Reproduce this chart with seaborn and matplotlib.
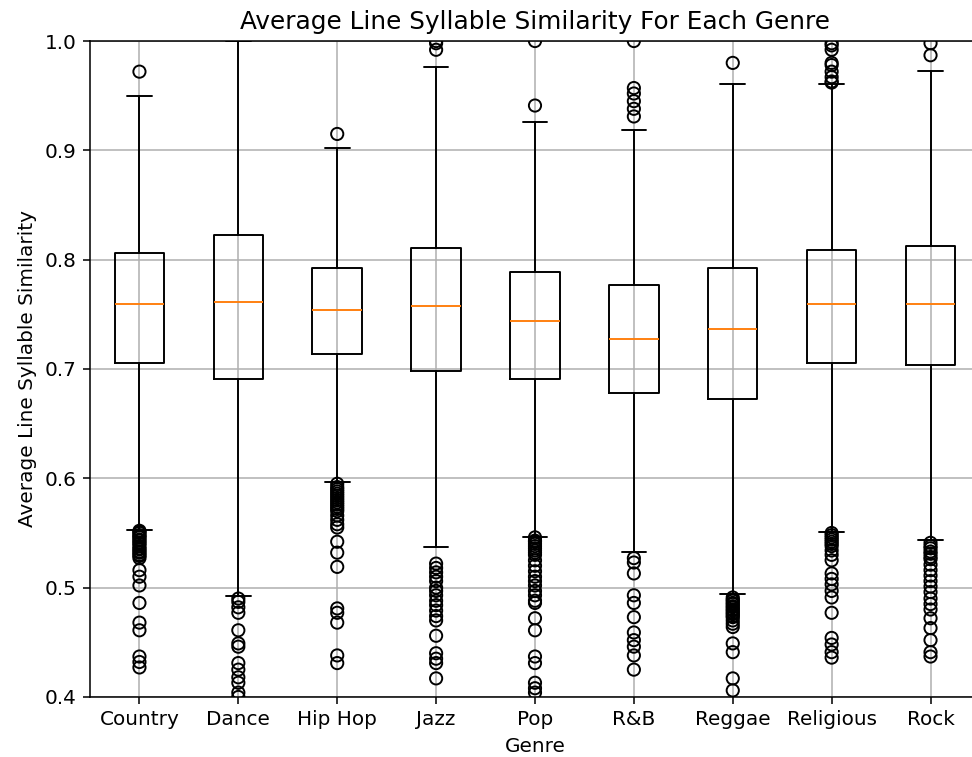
import matplotlib
matplotlib.use('Agg')
import matplotlib.pyplot as plt
import seaborn as sns
import pandas as pd

# Genres and box statistics
genres = ['Country', 'Dance', 'Hip Hop', 'Jazz', 'Pop', 'R&B', 'Reggae', 'Religious', 'Rock']
q1 = [0.7055, 0.691, 0.714, 0.698, 0.691, 0.678, 0.6726, 0.7055, 0.7036]
medians = [0.759, 0.761, 0.754, 0.758, 0.744, 0.7275, 0.737, 0.759, 0.759]
q3 = [0.806, 0.8226, 0.792, 0.811, 0.789, 0.777, 0.792, 0.809, 0.8125]
whisker_lo = [0.553, 0.492, 0.597, 0.537, 0.546, 0.533, 0.494, 0.551, 0.544]
whisker_hi = [0.950, 1.000, 0.902, 0.976, 0.926, 0.919, 0.961, 0.961, 0.9726]

# Outliers per genre
fliers = [
    [0.972, 0.552, 0.551, 0.550, 0.548, 0.547, 0.546, 0.544, 0.543, 0.541, 0.540,
     0.538, 0.536, 0.535, 0.533, 0.532, 0.530, 0.529, 0.527, 0.516, 0.510, 0.502,
     0.486, 0.468, 0.461, 0.437, 0.432, 0.427],
    [0.490, 0.487, 0.482, 0.477, 0.461, 0.449, 0.446, 0.431, 0.425, 0.418, 0.413,
     0.404, 0.400],
    [0.915, 0.595, 0.592, 0.590, 0.588, 0.586, 0.584, 0.582, 0.580, 0.578, 0.576,
     0.574, 0.572, 0.570, 0.566, 0.562, 0.558, 0.555, 0.542, 0.532, 0.519, 0.481,
     0.477, 0.468, 0.438, 0.431],
    [1.000, 0.998, 0.992, 0.522, 0.518, 0.514, 0.510, 0.506, 0.500, 0.497, 0.493,
     0.488, 0.484, 0.479, 0.474, 0.470, 0.456, 0.440, 0.435, 0.431, 0.417],
    [1.000, 0.941, 0.546, 0.543, 0.542, 0.540, 0.538, 0.536, 0.534, 0.532, 0.530,
     0.525, 0.520, 0.515, 0.510, 0.506, 0.502, 0.497, 0.493, 0.488, 0.486, 0.472,
     0.461, 0.437, 0.431, 0.413, 0.408, 0.404],
    [1.000, 0.957, 0.952, 0.945, 0.938, 0.931, 0.527, 0.523, 0.513, 0.493, 0.486,
     0.473, 0.459, 0.452, 0.446, 0.438, 0.425],
    [0.980, 0.491, 0.489, 0.488, 0.486, 0.485, 0.483, 0.482, 0.480, 0.479, 0.477,
     0.476, 0.474, 0.473, 0.470, 0.467, 0.464, 0.449, 0.441, 0.417, 0.406],
    [0.998, 0.996, 0.992, 0.980, 0.978, 0.972, 0.967, 0.963, 0.962, 0.550, 0.548,
     0.546, 0.544, 0.542, 0.540, 0.538, 0.534, 0.530, 0.525, 0.513, 0.508, 0.503,
     0.497, 0.491, 0.477, 0.454, 0.448, 0.441, 0.436],
    [0.998, 0.987, 0.541, 0.538, 0.536, 0.533, 0.531, 0.528, 0.526, 0.521, 0.516,
     0.511, 0.506, 0.501, 0.496, 0.490, 0.485, 0.480, 0.472, 0.463, 0.452, 0.441,
     0.437],
]

sns.set_style("ticks", {
    "axes.grid": True,
    "grid.color": "#b0b0b0",
    "axes.edgecolor": "black",
    "xtick.color": "black",
    "ytick.color": "black",
    "text.color": "black",
    "axes.labelcolor": "black",
    "xtick.major.size": 3.5,
    "ytick.major.size": 3.5,
})
plt.rcParams['font.family'] = ['DejaVu Sans']
plt.rcParams['font.size'] = 10.4
plt.rcParams['grid.linewidth'] = 0.8
plt.rcParams['axes.linewidth'] = 0.8

fig, ax = plt.subplots(figsize=(972 / 139, 757 / 139), dpi=139)
# the reference is cropped on the right, so the axes run slightly past the edge
fig.subplots_adjust(left=0.0926, right=1.0082, top=0.9458, bottom=0.0793)

stats = []
for i, g in enumerate(genres):
    stats.append(dict(label=g, q1=q1[i], med=medians[i], q3=q3[i],
                      whislo=whisker_lo[i], whishi=whisker_hi[i], fliers=[]))
ax.bxp(stats, showfliers=False)

# Outliers drawn as open circles
rows = []
for i, vals in enumerate(fliers):
    for v in vals:
        rows.append({'pos': i + 1, 'value': v})
flier_df = pd.DataFrame(rows)
sns.scatterplot(data=flier_df, x='pos', y='value', ax=ax, marker='o', s=40,
                color='black', facecolor='none', edgecolor='black', linewidth=1,
                zorder=3, clip_on=True)

ax.set_xlim(0.5, 9.5)
ax.set_ylim(0.4, 1.0)
ax.set_xticks(range(1, len(genres) + 1))
ax.set_xticklabels(genres)
ax.set_yticks([0.4, 0.5, 0.6, 0.7, 0.8, 0.9, 1.0])
ax.set_yticklabels(['0.4', '0.5', '0.6', '0.7', '0.8', '0.9', '1.0'])
ax.grid(True)
ax.set_axisbelow(True)
ax.set_title('Average Line Syllable Similarity For Each Genre', fontsize=12.8)
ax.set_xlabel('Genre')
ax.set_ylabel('Average Line Syllable Similarity')

fig.savefig('out.png', dpi=139)
